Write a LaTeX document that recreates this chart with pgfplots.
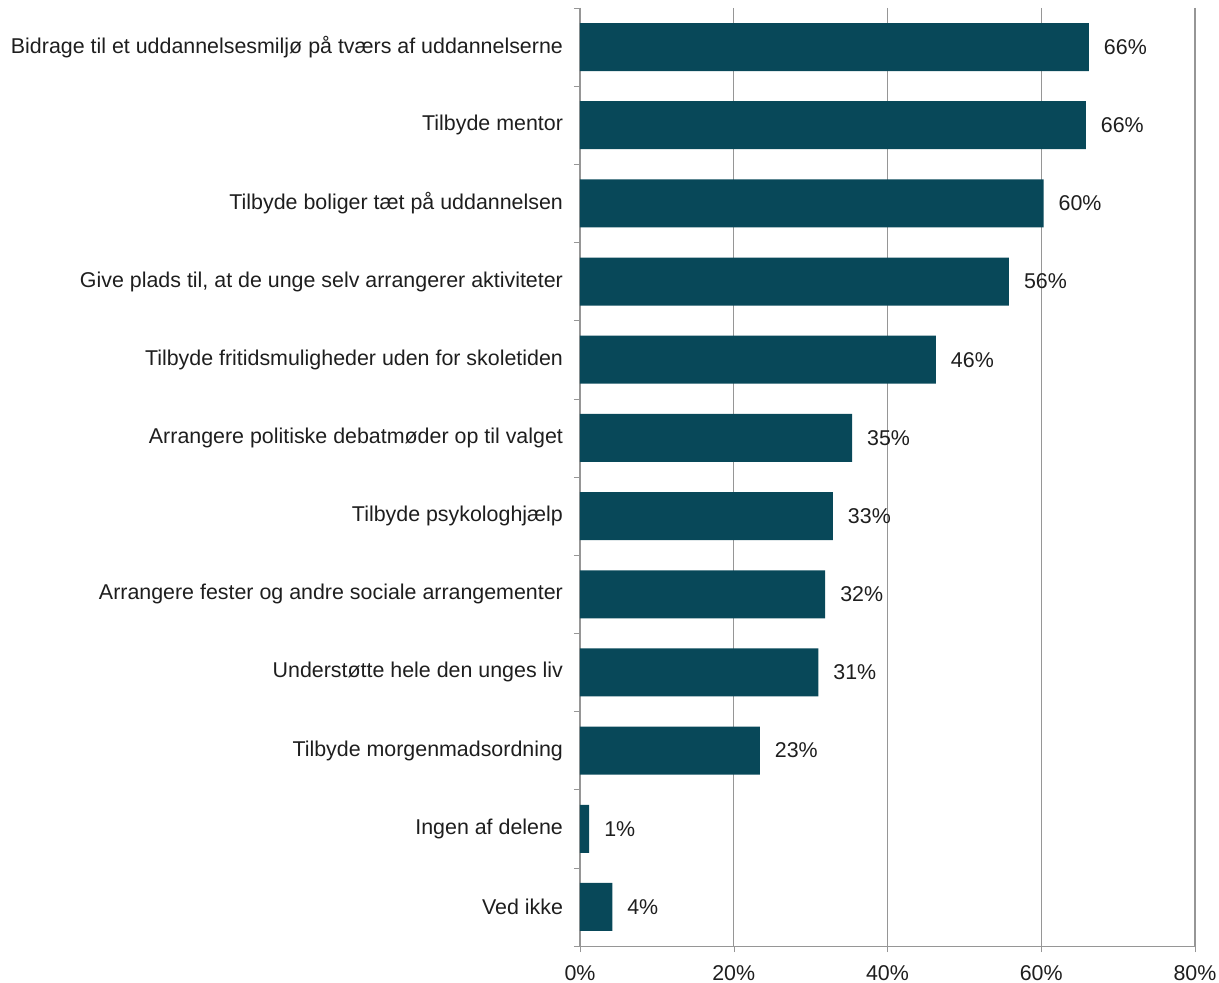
\documentclass[border=0pt]{standalone}
\usepackage{pgfplots}
\pgfplotsset{compat=1.18}
\usepackage{fontspec}
\setmainfont{Liberation Sans}
\definecolor{barc}{RGB}{8,72,89}
\definecolor{axc}{RGB}{150,150,150}
\definecolor{txt}{RGB}{30,30,30}
\begin{document}
\begin{tikzpicture}
\begin{axis}[
  at={(0,0)}, anchor=south west,
  scale only axis, width=307.5pt, height=469pt,
  xmin=0, xmax=80, ymin=-0.5, ymax=11.5, y dir=reverse,
  xbar, bar width=24pt,
  axis x line=bottom, axis y line=left,
  axis line style={draw=axc, -},
  x axis line style={-}, y axis line style={-},
  xtick={0,20,40,60,80},
  xticklabel={\pgfmathprintnumber{\tick}\%},
  /pgf/number format/assume math mode=true,
  xmajorgrids, grid style={draw=axc, line width=0.6pt},
  tick align=outside,
  major tick length=3pt, minor tick length=3pt,
  xtick style={draw=axc},
  ytick={0,...,11},
  major y tick style={draw=none},
  minor ytick={-0.5,0.5,...,11.5},
  minor y tick style={draw=axc},
  yticklabels={Bidrage til et uddannelsesmiljø på tværs af uddannelserne,
    Tilbyde mentor,
    Tilbyde boliger tæt på uddannelsen,
    {Give plads til, at de unge selv arrangerer aktiviteter},
    Tilbyde fritidsmuligheder uden for skoletiden,
    Arrangere politiske debatmøder op til valget,
    Tilbyde psykologhjælp,
    Arrangere fester og andre sociale arrangementer,
    Understøtte hele den unges liv,
    Tilbyde morgenmadsordning,
    Ingen af delene,
    Ved ikke},
  every tick label/.append style={font=\fontsize{10.7pt}{12pt}\selectfont, text=txt},
  yticklabel style={xshift=-2pt},
  xticklabel style={inner xsep=0pt, inner ysep=0pt, yshift=-6.5pt},
  nodes near coords={\pgfmathprintnumber[fixed,precision=0]{\pgfplotspointmeta}\%},
  nodes near coords align=horizontal,
  every node near coord/.append style={font=\fontsize{10.7pt}{12pt}\selectfont, text=txt, xshift=4pt},
]
\addplot[fill=barc, draw=none] coordinates {
(66.2,0) (65.8,1) (60.3,2) (55.8,3) (46.3,4) (35.4,5)
(32.9,6) (31.9,7) (31.0,8) (23.4,9) (1.2,10) (4.2,11)};
\end{axis}
\path (-290pt,-18.5pt) rectangle (319.5pt,473pt);
\end{tikzpicture}
\end{document}
